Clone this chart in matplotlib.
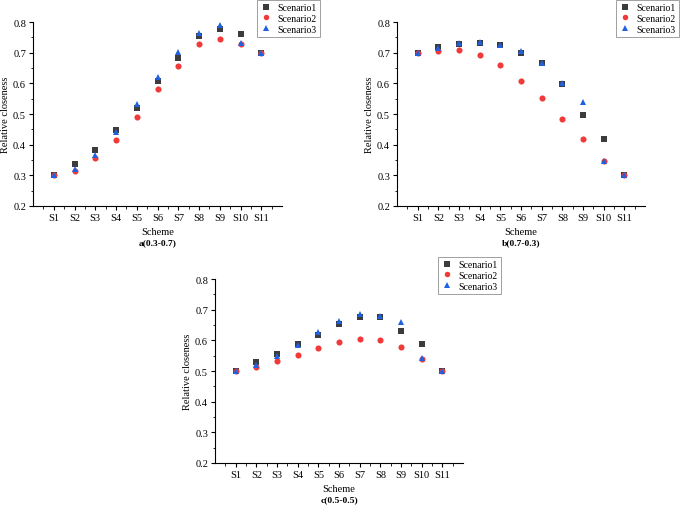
import matplotlib
matplotlib.use("Agg")
import matplotlib.pyplot as plt
from matplotlib.ticker import MultipleLocator, FixedLocator

plt.rcParams['font.family'] = ['Liberation Serif', 'DejaVu Serif']

schemes = ["S1", "S2", "S3", "S4", "S5", "S6", "S7", "S8", "S9", "S10", "S11"]

a_sc1 = [0.300, 0.336, 0.382, 0.449, 0.521, 0.609, 0.683, 0.754, 0.777, 0.761, 0.700]
a_sc2 = [0.300, 0.313, 0.355, 0.416, 0.491, 0.580, 0.657, 0.728, 0.743, 0.727, 0.700]
a_sc3 = [0.300, 0.322, 0.365, 0.441, 0.532, 0.620, 0.703, 0.763, 0.789, 0.730, 0.700]

b_sc1 = [0.700, 0.718, 0.729, 0.733, 0.724, 0.698, 0.665, 0.599, 0.498, 0.418, 0.300]
b_sc2 = [0.700, 0.707, 0.709, 0.691, 0.661, 0.608, 0.552, 0.485, 0.417, 0.348, 0.300]
b_sc3 = [0.700, 0.714, 0.730, 0.734, 0.725, 0.704, 0.666, 0.600, 0.538, 0.347, 0.300]

c_sc1 = [0.500, 0.529, 0.554, 0.587, 0.618, 0.652, 0.675, 0.675, 0.632, 0.588, 0.500]
c_sc2 = [0.500, 0.512, 0.533, 0.552, 0.574, 0.595, 0.604, 0.602, 0.577, 0.539, 0.500]
c_sc3 = [0.500, 0.521, 0.548, 0.585, 0.626, 0.662, 0.686, 0.678, 0.659, 0.541, 0.500]

series_names = ["Scenario1", "Scenario2", "Scenario3"]
titles = ["a(0.3-0.7)", "b(0.7-0.3)", "c(0.5-0.5)"]

W, H = 685, 506
fig = plt.figure(figsize=(W / 100, H / 100), dpi=100)

def px_axes(left, top, right, bottom):
    return fig.add_axes([left / W, 1 - bottom / H, (right - left) / W, (bottom - top) / H])

styles = [dict(marker="s", color="#3c3c3c"),
          dict(marker="o", color="#f03a3a"),
          dict(marker="^", color="#1f62e0")]

panels = [
    (px_axes(33, 23, 282, 207), [a_sc1, a_sc2, a_sc3], titles[0], (257, 1)),
    (px_axes(397, 23, 645, 207), [b_sc1, b_sc2, b_sc3], titles[1], (616, 1)),
    (px_axes(215, 280, 463, 464), [c_sc1, c_sc2, c_sc3], titles[2], (438, 258)),
]

x = list(range(1, len(schemes) + 1))
for ax, data, title, legpos in panels:
    handles = []
    for vals, st, name in zip(data, styles, series_names):
        h, = ax.plot(x, vals, linestyle="none", marker=st["marker"], color=st["color"],
                     markersize=4.4, markeredgewidth=0, label=name)
        handles.append(h)
    ax.set_xlim(0, 12)
    ax.set_ylim(0.2, 0.8)
    ax.set_xticks(x)
    ax.set_xticklabels(schemes)
    ax.xaxis.set_minor_locator(FixedLocator([v + 0.5 for v in range(0, 12)]))
    ax.yaxis.set_major_locator(MultipleLocator(0.1))
    ax.yaxis.set_minor_locator(MultipleLocator(0.05))
    ax.yaxis.set_major_formatter(matplotlib.ticker.FormatStrFormatter("%.1f"))
    ax.tick_params(axis="both", which="major", direction="out", length=3, width=0.8,
                   labelsize=7.5, pad=2)
    ax.tick_params(axis="both", which="minor", direction="out", length=1.8, width=0.6)
    for s in ["top", "right"]:
        ax.spines[s].set_visible(False)
    for s in ["left", "bottom"]:
        ax.spines[s].set_linewidth(0.8)
    ax.set_ylabel("Relative closeness", fontsize=7.5, labelpad=2.5)
    ax.set_xlabel("Scheme", fontsize=7.5, labelpad=3.5)
    ax.text(0.5, -36 / 184, title, transform=ax.transAxes, ha="center", va="center",
            fontsize=6.8, fontweight="bold")
    leg = fig.legend(handles=handles, loc="upper left",
                     bbox_to_anchor=(legpos[0] / W, 1 - legpos[1] / H),
                     fontsize=7, frameon=True, fancybox=False, handlelength=1.2,
                     handletextpad=0.6, borderpad=0.3, labelspacing=0.2,
                     borderaxespad=0, markerscale=0.9)
    leg.get_frame().set_edgecolor("#888888")
    leg.get_frame().set_linewidth(0.7)

fig.savefig("out.png", dpi=100)
